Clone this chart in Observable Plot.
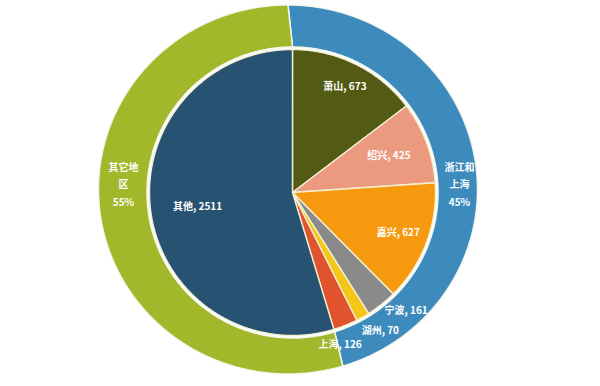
<!DOCTYPE html>
<html>
<head>
<meta charset="utf-8">
<script src="https://cdn.jsdelivr.net/npm/d3@7"></script>
<script src="https://cdn.jsdelivr.net/npm/@observablehq/plot@0.6"></script>
<style>
  html, body { margin: 0; padding: 0; background: #ffffff; }
  #chart { width: 600px; height: 386px; }
</style>
</head>
<body>
<div id="chart"></div>
<script>
// ---- data ----
const cities = ["萧山", "绍兴", "嘉兴", "宁波", "湖州", "上海", "其他"];
const counts = [673, 425, 627, 161, 70, 126, 2511];
const cityRegion = ["浙江和上海", "浙江和上海", "浙江和上海", "浙江和上海", "浙江和上海", "浙江和上海", "其它地区"];
const cityColors = ["#535a14", "#eb9a80", "#f7990f", "#8a8a8a", "#f5c518", "#e0532c", "#285271"];
const regions = ["浙江和上海", "其它地区"];
const regionPercents = ["45%", "55%"];
const regionLabelLines = [["浙江和", "上海"], ["其它地", "区"]];
const regionColors = ["#3d8bbd", "#a2b72a"];

// ---- geometry (style) ----
const cx = 292, cy = 192;       // pie centre
const rPie = 143;               // inner pie radius
const rRingIn = 145.5;          // ring inner radius
const ocx = 287.5, ocy = 189, rxOut = 189.5, ryOut = 184.5; // ring outer edge
const total = d3.sum(counts);
const toRad = v => v / total * 2 * Math.PI;

let acc = 0;
const slices = cities.map((c, i) => {
  const a0 = acc; acc += toRad(counts[i]);
  return {name: c, value: counts[i], color: cityColors[i], region: cityRegion[i], a0, a1: acc};
});
const regionSlices = regions.map((r, i) => {
  const sub = slices.filter(s => s.region === r);
  return {name: r, color: regionColors[i], a0: d3.min(sub, s => s.a0), a1: d3.max(sub, s => s.a1),
          text: regionLabelLines[i].concat([regionPercents[i]]).join("\n")};
});

const pt = (ccx, ccy, rx, ry, a) => [ccx + rx * Math.sin(a), ccy - ry * Math.cos(a)];
const step = Math.PI / 360;

const polys = [];
for (const s of slices) {
  polys.push({id: "c" + s.name, color: s.color, xy: [cx, cy]});
  const n = Math.max(2, Math.ceil((s.a1 - s.a0) / step));
  for (let k = 0; k <= n; k++) {
    const a = s.a0 + (s.a1 - s.a0) * k / n;
    polys.push({id: "c" + s.name, color: s.color, xy: pt(cx, cy, rPie, rPie, a)});
  }
}
const ringPolys = [];
for (const s of regionSlices) {
  const n = Math.max(2, Math.ceil((s.a1 - s.a0) / step));
  for (let k = 0; k <= n; k++) {
    const a = s.a0 + (s.a1 - s.a0) * k / n;
    ringPolys.push({id: "r" + s.name, color: s.color, xy: pt(ocx, ocy, rxOut, ryOut, a)});
  }
  for (let k = n; k >= 0; k--) {
    const a = s.a0 + (s.a1 - s.a0) * k / n;
    ringPolys.push({id: "r" + s.name, color: s.color, xy: pt(cx, cy, rRingIn, rRingIn, a)});
  }
}

// label placement
const labelR = {"萧山": 118, "绍兴": 103, "嘉兴": 113, "其他": 96};
const outerAdj = {"宁波": [-2, 0], "湖州": [-5, 7], "上海": [-30, 12]};
const bigLabels = slices.filter(s => labelR[s.name] !== undefined).map(s => {
  const m = (s.a0 + s.a1) / 2;
  const [x, y] = pt(cx, cy, labelR[s.name], labelR[s.name], m);
  return {x, y, text: `${s.name}, ${s.value}`};
});
const smallLabels = slices.filter(s => outerAdj[s.name] !== undefined).map(s => {
  const m = (s.a0 + s.a1) / 2;
  const [x, y] = pt(cx, cy, 151, 151, m);
  return {x: x + outerAdj[s.name][0], y: y + outerAdj[s.name][1], text: `${s.name}, ${s.value}`};
});
const regionLabels = regionSlices.map(s => {
  const m = (s.a0 + s.a1) / 2;
  const side = Math.sin(m) >= 0 ? 1 : -1;
  return {x: cx + side * (side > 0 ? 167 : 169), y: cy - 10, text: s.text};
});

const font = "'Noto Sans CJK SC', 'Noto Sans', sans-serif";

const chart = Plot.plot({
  width: 600,
  height: 386,
  margin: 0,
  x: {domain: [0, 600], range: [0, 600], axis: null},
  y: {domain: [0, 386], range: [0, 386], axis: null},
  color: {type: "identity"},
  style: {background: "#ffffff", fontFamily: font},
  marks: [
    Plot.line(ringPolys, {x: d => d.xy[0], y: d => d.xy[1], z: "id", fill: "color",
      stroke: "#f4f6ee", strokeWidth: 1.5, curve: "linear-closed"}),
    Plot.line(polys, {x: d => d.xy[0], y: d => d.xy[1], z: "id", fill: "color",
      stroke: "#f2efd2", strokeWidth: 1.4, curve: "linear-closed"}),
    Plot.text(bigLabels, {x: "x", y: "y", text: "text", fill: "#ffffff", fontSize: 10,
      fontWeight: 600, textAnchor: "middle"}),
    Plot.text(smallLabels, {x: "x", y: "y", text: "text", fill: "#ffffff", fontSize: 10,
      fontWeight: 600, textAnchor: "start"}),
    Plot.text(regionLabels, {x: "x", y: "y", text: "text", fill: "#ffffff", fontSize: 10,
      fontWeight: 600, textAnchor: "middle", lineHeight: 1.75})
  ]
});
document.getElementById("chart").appendChild(chart);
</script>
</body>
</html>
